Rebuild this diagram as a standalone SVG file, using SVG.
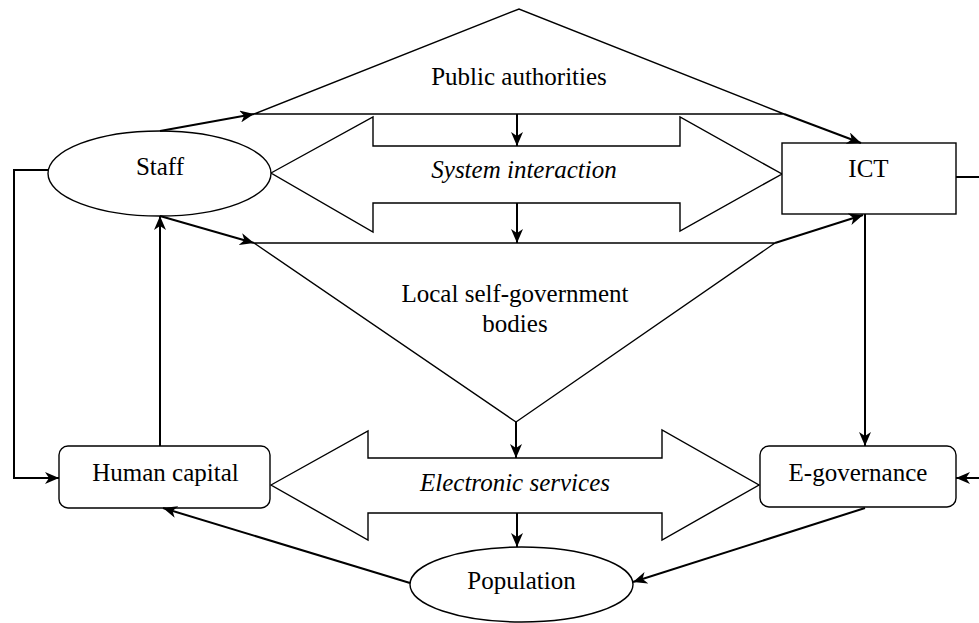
<svg xmlns="http://www.w3.org/2000/svg" width="979" height="623" viewBox="0 0 979 623">
<style>
.shape{fill:#fff;stroke:#000;stroke-width:1.4}
.thin{fill:none;stroke:#000;stroke-width:1.4}
.conn{fill:none;stroke:#000;stroke-width:2}
.lbl{font-family:"Liberation Serif","Times New Roman",serif;font-size:25px;fill:#000;text-anchor:middle}
.it{font-style:italic}
</style>
<defs>
<marker id="arr" markerUnits="userSpaceOnUse" markerWidth="14" markerHeight="12" refX="14" refY="6" orient="auto" viewBox="0 0 14 12">
<path d="M0,0 L14,6 L0,12 L4,6 z" fill="#000"/>
</marker>
</defs>
<rect width="979" height="623" fill="#fff"/>
<g id="public-authorities">
<path class="thin" d="M254,114 L519,9 L784,114 M254,114 L784,114"/>
<text class="lbl" x="519" y="85">Public authorities</text>
</g>
<g id="local-self-government">
<path class="thin" d="M254,243 L775,243 M254,243 L516,422 L775,243"/>
<text class="lbl" x="515" y="302">Local self-government</text>
<text class="lbl" x="515" y="332">bodies</text>
</g>
<g id="system-interaction">
<polygon class="shape" points="271,173 373,117 373,146 680,146 680,117 782,174 680,231 680,203 373,203 373,232"/>
<text class="lbl it" x="524" y="178">System interaction</text>
</g>
<g id="electronic-services">
<polygon class="shape" points="271,485 368,431 368,458 662,458 662,430 759,485 662,540 662,513 368,513 368,540"/>
<text class="lbl it" x="515" y="491">Electronic services</text>
</g>
<g id="staff">
<ellipse class="shape" cx="159.5" cy="173.5" rx="111.5" ry="42.5"/>
<text class="lbl" x="160" y="175">Staff</text>
</g>
<g id="ict">
<rect class="shape" x="782" y="143" width="174" height="71"/>
<text class="lbl" x="868.5" y="177">ICT</text>
</g>
<g id="human-capital">
<rect class="shape" x="59" y="446" width="211" height="62" rx="9"/>
<text class="lbl" x="165.5" y="481">Human capital</text>
</g>
<g id="e-governance">
<rect class="shape" x="760" y="446" width="196" height="61" rx="9"/>
<text class="lbl" x="858" y="481">E-governance</text>
</g>
<g id="population">
<ellipse class="shape" cx="521.5" cy="584.5" rx="111.5" ry="37.5"/>
<text class="lbl" x="521.5" y="589">Population</text>
</g>
<g id="connectors">
<path class="conn" d="M160,131 L254,114" marker-end="url(#arr)"/>
<path class="conn" d="M160,216 L254,243" marker-end="url(#arr)"/>
<path class="conn" d="M784,114 L861,143" marker-end="url(#arr)"/>
<path class="conn" d="M775,243 L863,215" marker-end="url(#arr)"/>
<path class="conn" d="M517,114 L517,146" marker-end="url(#arr)"/>
<path class="conn" d="M517,203 L517,243" marker-end="url(#arr)"/>
<path class="conn" d="M516,422 L516,458" marker-end="url(#arr)"/>
<path class="conn" d="M517,513 L517,547" marker-end="url(#arr)"/>
<path class="conn" d="M160,446 L160,216" marker-end="url(#arr)"/>
<path class="conn" d="M865,214 L865,446" marker-end="url(#arr)"/>
<path class="conn" d="M865,508 L633,582" marker-end="url(#arr)"/>
<path class="conn" d="M410,583 L163,508" marker-end="url(#arr)"/>
<path class="conn" d="M48,170 L14,170 L14,478 L59,478" marker-end="url(#arr)"/>
<path class="conn" d="M956,177 L992,177 L992,478 L956,478" marker-end="url(#arr)"/>
</g>
</svg>
